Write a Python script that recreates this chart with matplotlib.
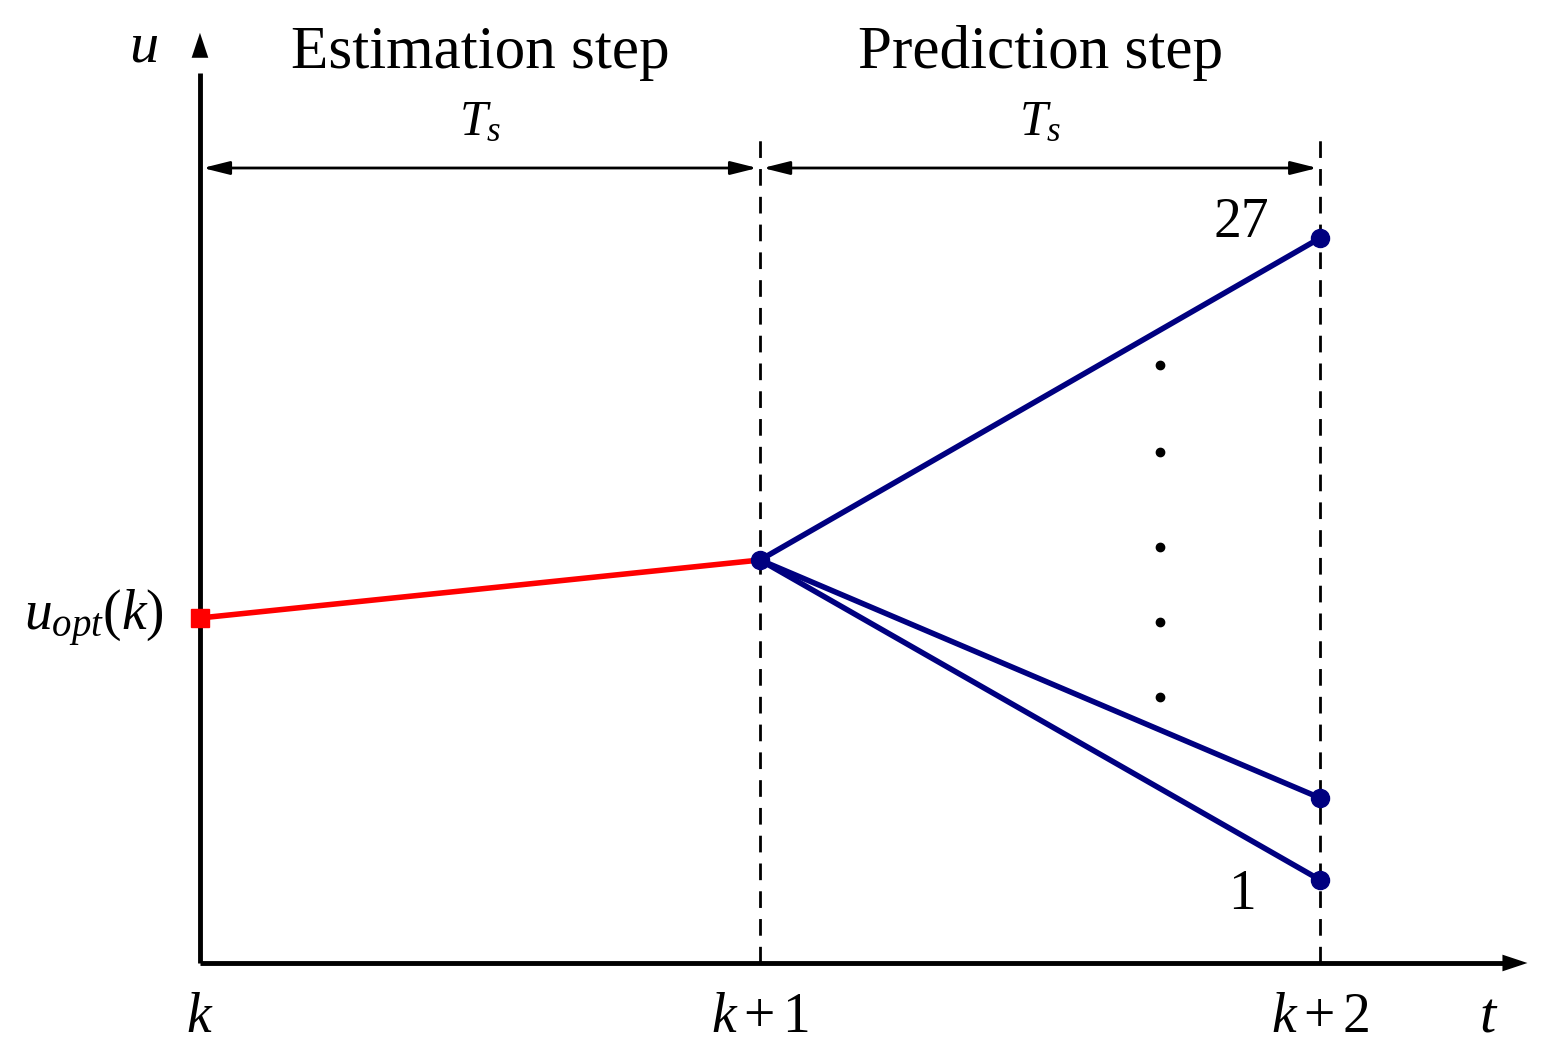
import matplotlib.pyplot as plt

plt.rcParams['font.family'] = 'Liberation Serif'
plt.rcParams['mathtext.fontset'] = 'custom'
plt.rcParams['mathtext.rm'] = 'Liberation Serif'
plt.rcParams['mathtext.it'] = 'Liberation Serif:italic'

# time in sample steps (k = 0), u in arbitrary units
t_steps = [0, 1, 2]
tick_labels = ['$k$', '$k+1$', '$k+2$']
u_est = [3.45, 4.03]          # red estimation segment
u_pred_end = [7.25, 1.65, 0.83]  # ends of the predicted trajectories (27 ... 1)
dots_t = 1.714
dots_u = [5.98, 5.11, 4.16, 3.41, 2.66]

navy = '#000080'

fig = plt.figure(figsize=(15.56, 10.62), dpi=100)
ax = fig.add_axes([0, 0, 1, 1])
ax.set_xlim(-0.357, 2.421)
ax.set_ylim(-0.99, 9.63)
ax.axis('off')

# axes with arrows
ax.plot([0, 2.33], [0, 0], color='k', lw=3.5, solid_capstyle='butt')
ax.plot([0, 0], [0, 8.9], color='k', lw=3.5, solid_capstyle='butt')
ax.annotate('', xy=(2.375, 0), xytext=(2.28, 0),
            arrowprops=dict(arrowstyle='-|>,head_length=1.8,head_width=0.6', color='k', lw=0))
ax.annotate('', xy=(0, 9.33), xytext=(0, 8.7),
            arrowprops=dict(arrowstyle='-|>,head_length=1.8,head_width=0.6', color='k', lw=0))
ax.text(-0.1, 9.15, '$u$', fontsize=42, ha='center', va='center')
ax.text(2.3, -0.55, '$t$', fontsize=42, ha='center', va='center')

# dashed verticals
for t in t_steps[1:]:
    ax.plot([t, t], [0, 8.33], color='k', lw=2, ls=(0, (6, 4)))

# tick labels
for t, lab in zip(t_steps, tick_labels):
    ax.text(t, -0.55, lab, fontsize=40, ha='center', va='center')

# Ts double arrows
for a, b in [(0, 1), (1, 2)]:
    ax.annotate('', xy=(a, 7.95), xytext=(b, 7.95),
                arrowprops=dict(arrowstyle='<|-|>,head_length=1.6,head_width=0.4', color='k', lw=2))
    ax.text((a + b) / 2, 8.4, '$T_s$', fontsize=36, ha='center', va='center')

ax.text(0.5, 9.1, 'Estimation step', fontsize=44, ha='center', va='center')
ax.text(1.5, 9.1, 'Prediction step', fontsize=44, ha='center', va='center')

# estimation segment
ax.plot(t_steps[:2], u_est, color='red', lw=4, solid_capstyle='butt')
ax.plot(0, u_est[0], marker='s', color='red', ms=13)
ax.text(-0.19, u_est[0], r'$u_{opt}(k)$', fontsize=40, ha='center', va='center')

# predicted trajectories
for ue in u_pred_end:
    ax.plot([1, 2], [u_est[1], ue], color=navy, lw=4)
    ax.plot(2, ue, 'o', color=navy, ms=13)
ax.plot(1, u_est[1], 'o', color=navy, ms=13)
ax.plot([dots_t] * len(dots_u), dots_u, 'o', color='k', ms=6, ls='none')

ax.text(1.86, 7.4, '27', fontsize=40, ha='center', va='center')
ax.text(1.86, 0.68, '1', fontsize=40, ha='center', va='center')

fig.savefig('out.png', dpi=100)
